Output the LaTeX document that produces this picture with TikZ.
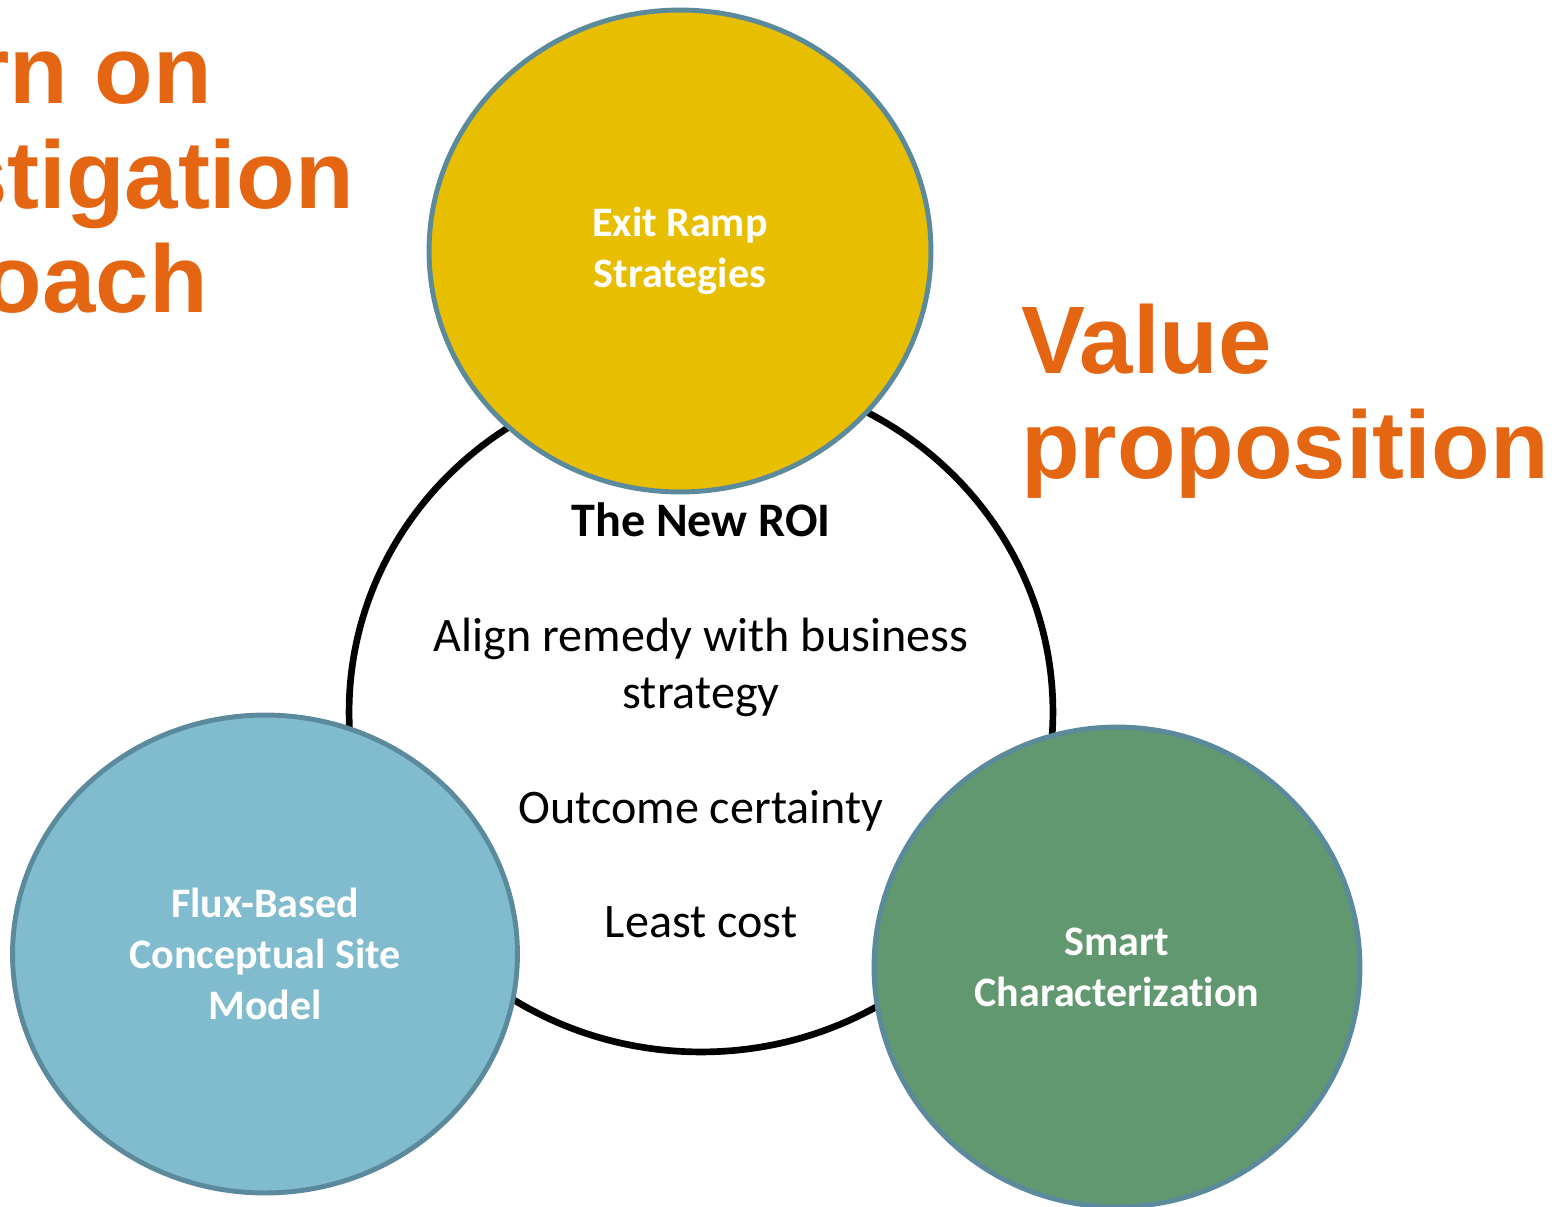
\documentclass[tikz,border=0pt]{standalone}
\usepackage{fontspec}
\setmainfont{Carlito}[Ligatures=NoCommon]
\newfontfamily\headfont{Liberation Sans}
\usetikzlibrary{shapes.geometric}
\definecolor{roiorange}{RGB}{228,101,18}
\definecolor{rampgold}{RGB}{232,190,0}
\definecolor{fluxblue}{RGB}{129,187,206}
\definecolor{smartgreen}{RGB}{98,152,112}
\definecolor{rimblue}{RGB}{90,138,155}

\begin{document}
\begin{tikzpicture}[
    x=0.02cm, y=-0.02cm,
    ring/.style={ellipse, draw=black, line width=3.8pt, fill=white, minimum width=14.08cm, minimum height=13.6cm},
    pillar/.style={ellipse, draw=rimblue, line width=2.8pt, align=center, text=white, font=\fontsize{23.9}{29}\selectfont\bfseries},
    roitext/.style={anchor=base, align=center, font=\fontsize{27.4}{31.9}\selectfont},
    headline/.style={anchor=base west, align=left, text=roiorange, font=\headfont\fontsize{54.6}{59.2}\selectfont\bfseries}
]
    \useasboundingbox (0,0) rectangle (1559,1207);

    % Title, cut off at the left edge
    \node[headline, anchor=base east] (t1) at (218,103) {rn on};
    \node[headline, anchor=base east] (t2) at (360,208) {stigation};
    \node[headline, anchor=base east] (t3) at (214,312) {oach};

    % Big ring with the new ROI
    \node[ring] (roi) at (701,712) {};
    \node[roitext, font=\fontsize{27.4}{31.9}\selectfont\bfseries] (head) at (701,536) {The New ROI};
    \node[roitext] (align) at (701,708) {Align remedy with business\\strategy};
    \node[roitext] (outcome) at (701,823) {Outcome certainty};
    \node[roitext] (cost) at (701,937) {Least cost};

    % Three pillars round the ring
    \node[pillar, fill=rampgold, minimum width=10.04cm, minimum height=9.64cm] (ramp) at (680,251) {Exit Ramp\\Strategies};
    \node[pillar, fill=fluxblue, minimum width=10.1cm, minimum height=9.56cm] (flux) at (265,954) {Flux-Based\\Conceptual Site\\Model};
    \node[pillar, fill=smartgreen, minimum width=9.72cm, minimum height=9.6cm] (smart) at (1117,967) {Smart\\Characterization};

    % Value proposition
    \node[headline] (value) at (1015,478) {Value\\proposition};
\end{tikzpicture}
\end{document}
